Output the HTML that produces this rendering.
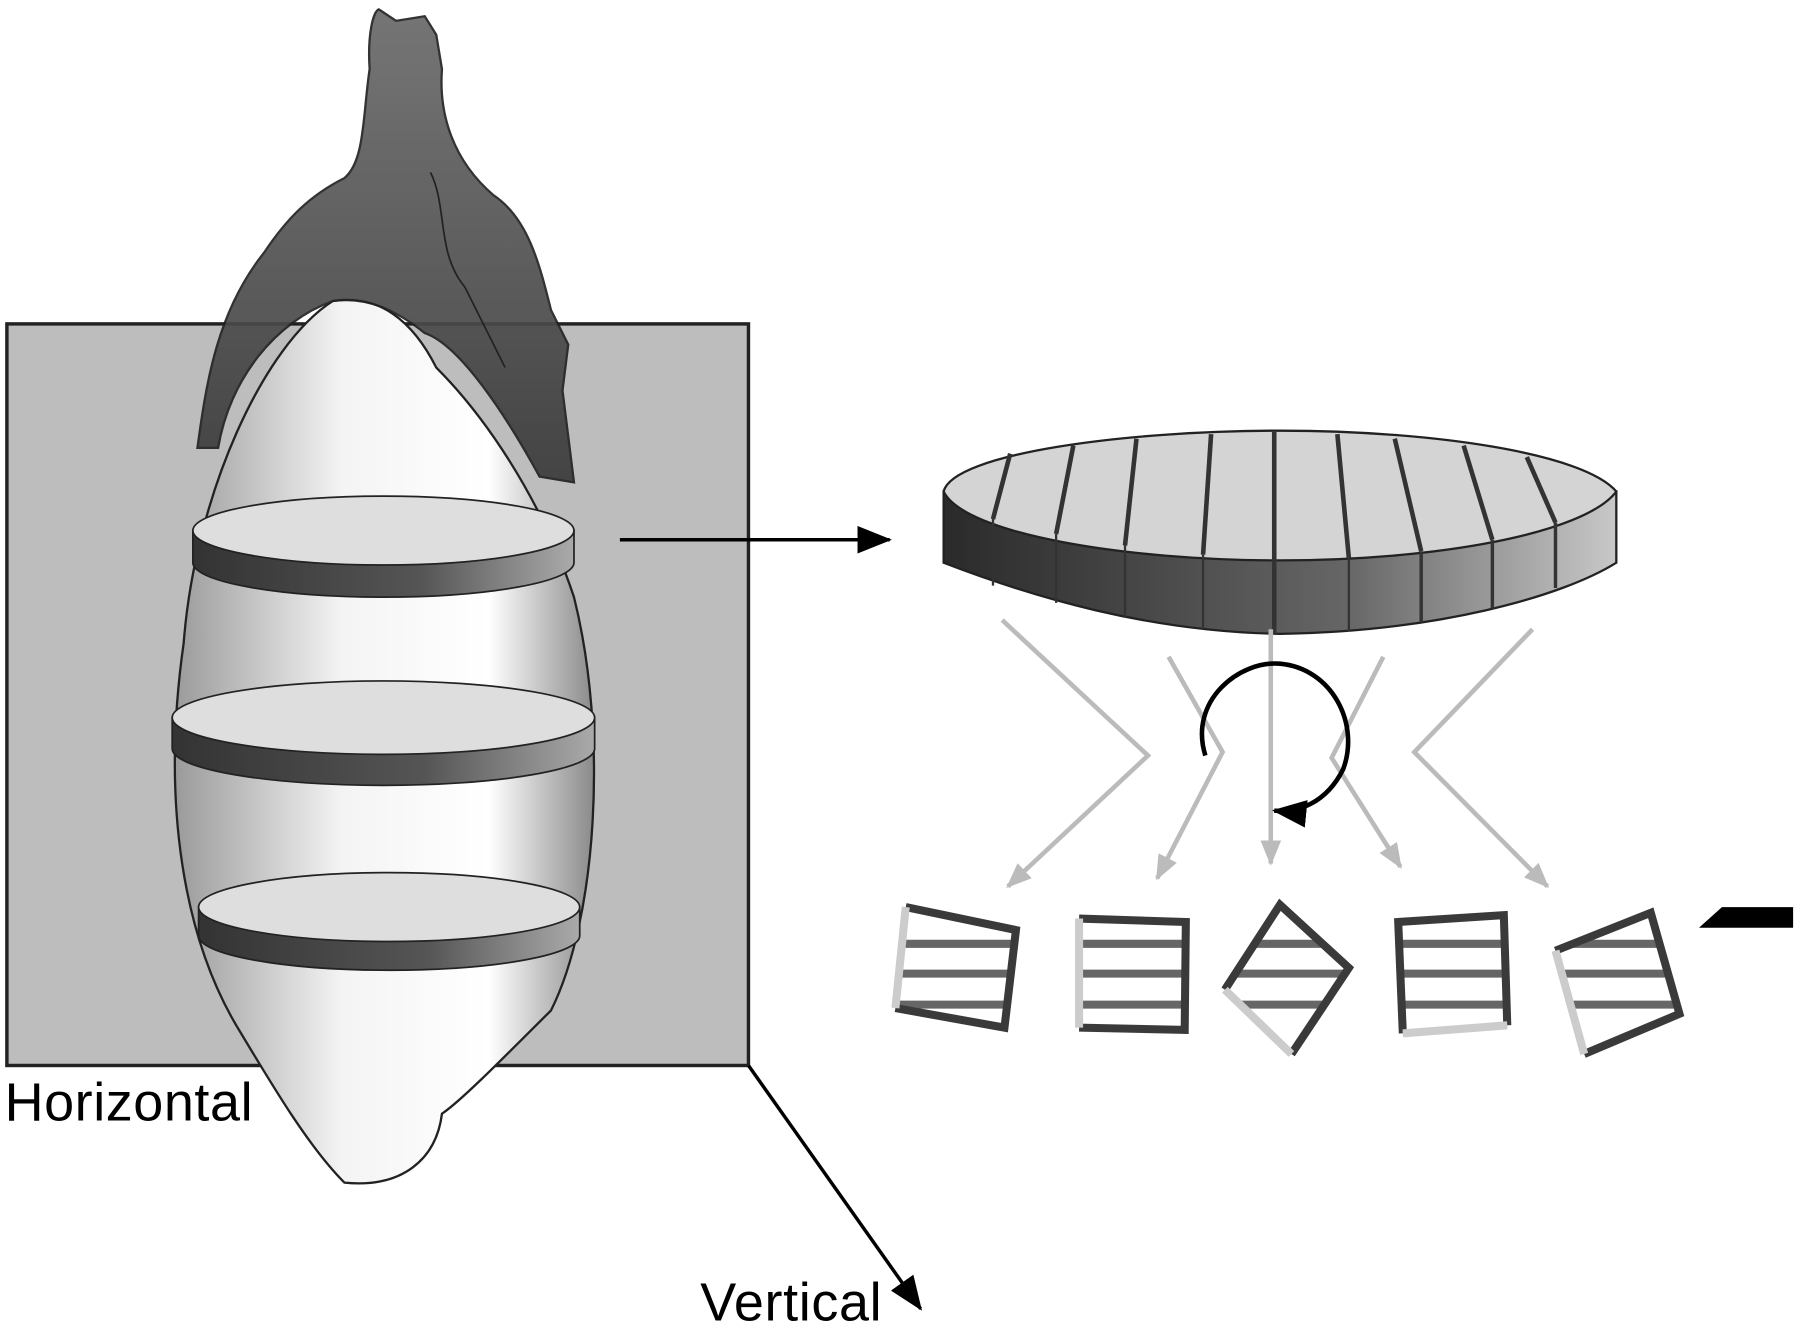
<!DOCTYPE html>
<html><head><style>html,body{margin:0;padding:0;background:#fff}svg{display:block}</style></head>
<body>
<svg width="1800" height="1332" viewBox="0 0 1568 1160" xmlns="http://www.w3.org/2000/svg">
<defs>
<linearGradient id="dark" x1="0" y1="0" x2="0" y2="1"><stop offset="0" stop-color="#6a6a6a"/><stop offset="1" stop-color="#3a3a3a"/></linearGradient>
<linearGradient id="body" x1="0" y1="0" x2="1" y2="0"><stop offset="0" stop-color="#9a9a9a"/><stop offset="0.4" stop-color="#f4f4f4"/><stop offset="0.75" stop-color="#ffffff"/><stop offset="1" stop-color="#8a8a8a"/></linearGradient>
<linearGradient id="band" x1="0" y1="0" x2="1" y2="0"><stop offset="0" stop-color="#333"/><stop offset="0.6" stop-color="#555"/><stop offset="1" stop-color="#aaa"/></linearGradient>
<linearGradient id="rim" x1="0" y1="0" x2="1" y2="0"><stop offset="0" stop-color="#2a2a2a"/><stop offset="0.6" stop-color="#666"/><stop offset="1" stop-color="#c8c8c8"/></linearGradient>
<marker id="ahg" markerWidth="22" markerHeight="22" refX="20" refY="11" orient="auto" markerUnits="userSpaceOnUse"><path d="M0,2 L22,11 L0,20 z" fill="#bbb"/></marker>
<marker id="ahb" markerWidth="30" markerHeight="24" refX="28" refY="12" orient="auto" markerUnits="userSpaceOnUse"><path d="M0,0 L30,12 L0,24 z" fill="#000"/></marker>
</defs>
<rect x="6" y="282" width="646" height="646" fill="#bdbdbd" stroke="#222" stroke-width="3"/>
<path d="M290,262 C330,255 360,280 380,320 C420,360 470,430 500,520 C530,640 520,800 480,880 C430,930 400,960 385,970 C380,1010 350,1035 300,1030 C270,1000 240,950 210,900 C160,820 140,700 160,560 C170,430 230,300 290,262 Z" fill="url(#body)" stroke="#222" stroke-width="2"/>
<path d="M172,390 C180,330 190,270 230,220 C250,190 270,170 300,155 C318,140 316,100 322,60 C320,30 325,10 330,8 L345,18 L370,14 L380,30 L385,60 C382,100 395,140 430,170 C460,190 470,230 480,270 L495,300 L490,340 L500,420 L470,415 C440,360 400,300 370,290 C345,270 320,258 290,262 C240,280 200,330 190,390 Z" fill="url(#dark)" stroke="#222" stroke-width="2" opacity="0.92"/>
<path d="M375,150 C390,180 380,220 405,250 C420,280 430,300 440,320" stroke="#222" fill="none" stroke-width="1.5"/>
<path d="M168,462 L168,490 A166,30 0 0 0 500,490 L500,462 Z" fill="url(#band)" stroke="#222" stroke-width="1.5"/>
<ellipse cx="334" cy="462" rx="166" ry="30" fill="#dedede" stroke="#222" stroke-width="1.5"/>
<path d="M150,625 L150,652 A184,32 0 0 0 518,652 L518,625 Z" fill="url(#band)" stroke="#222" stroke-width="1.5"/>
<ellipse cx="334" cy="625" rx="184" ry="32" fill="#dedede" stroke="#222" stroke-width="1.5"/>
<path d="M173,790 L173,815 A166,30 0 0 0 505,815 L505,790 Z" fill="url(#band)" stroke="#222" stroke-width="1.5"/>
<ellipse cx="339" cy="790" rx="166" ry="30" fill="#dedede" stroke="#222" stroke-width="1.5"/>
<line x1="540" y1="470" x2="775" y2="470" stroke="#000" stroke-width="3" marker-end="url(#ahb)"/>
<path d="M822,428 L822,490 C900,520 1000,550 1115,552 C1250,550 1360,520 1408,490 L1408,428 Z" fill="url(#rim)" stroke="#222" stroke-width="2"/>
<path d="M822,428 C830,395 980,375 1115,375 C1250,375 1380,395 1408,428 C1380,465 1250,488 1115,488 C980,488 840,465 822,428 Z" fill="#d4d4d4" stroke="#222" stroke-width="2"/>
<g stroke="#333" stroke-width="4">
<line x1="880" y1="395" x2="865" y2="452"/><line x1="935" y1="388" x2="920" y2="465"/><line x1="990" y1="382" x2="980" y2="475"/><line x1="1055" y1="378" x2="1048" y2="483"/><line x1="1110" y1="376" x2="1110" y2="488"/><line x1="1165" y1="378" x2="1175" y2="486"/><line x1="1215" y1="382" x2="1238" y2="480"/><line x1="1275" y1="388" x2="1300" y2="470"/><line x1="1330" y1="398" x2="1355" y2="455"/>
<line x1="865" y1="452" x2="865" y2="510" stroke-width="2"/><line x1="920" y1="465" x2="920" y2="525" stroke-width="2"/><line x1="980" y1="475" x2="980" y2="538" stroke-width="2"/><line x1="1048" y1="483" x2="1048" y2="548" stroke-width="2"/><line x1="1110" y1="488" x2="1110" y2="552"/><line x1="1175" y1="486" x2="1175" y2="550" stroke-width="2"/><line x1="1238" y1="480" x2="1238" y2="542" stroke-width="3"/><line x1="1300" y1="470" x2="1300" y2="530" stroke-width="3"/><line x1="1355" y1="455" x2="1355" y2="512" stroke-width="3"/>
</g>
<g stroke="#bbb" stroke-width="4" fill="none">
<polyline points="873,540 1000,658 878,772" marker-end="url(#ahg)"/>
<polyline points="1018,572 1065,655 1008,765" marker-end="url(#ahg)"/>
<line x1="1107" y1="548" x2="1107" y2="752" marker-end="url(#ahg)"/>
<polyline points="1205,572 1160,660 1220,755" marker-end="url(#ahg)"/>
<polyline points="1335,548 1232,655 1348,772" marker-end="url(#ahg)"/>
</g>
<path d="M1050,658 C1035,610 1080,575 1115,578 C1160,582 1185,630 1170,670 C1155,700 1130,708 1110,706" stroke="#000" stroke-width="4" fill="none" marker-end="url(#ahb)"/>
<g stroke-width="7" fill="none" stroke-linejoin="miter">
<g><clipPath id="c1"><polygon points="789,790 885,810 875,895 780,878"/></clipPath><g clip-path="url(#c1)" stroke="#666"><line x1="770" y1="822" x2="900" y2="822"/><line x1="770" y1="848" x2="900" y2="848"/><line x1="770" y1="875" x2="900" y2="875"/></g><polyline points="789,790 885,810 875,895 780,878" stroke="#3a3a3a"/><line x1="789" y1="790" x2="780" y2="878" stroke="#ccc"/></g>
<g><clipPath id="c2"><polygon points="940,800 1033,803 1032,897 940,895"/></clipPath><g clip-path="url(#c2)" stroke="#666"><line x1="930" y1="822" x2="1040" y2="822"/><line x1="930" y1="848" x2="1040" y2="848"/><line x1="930" y1="875" x2="1040" y2="875"/></g><polyline points="940,800 1033,803 1032,897 940,895" stroke="#3a3a3a"/><line x1="940" y1="800" x2="940" y2="895" stroke="#ccc"/></g>
<g><clipPath id="c3"><polygon points="1115,788 1175,843 1125,918 1067,862"/></clipPath><g clip-path="url(#c3)" stroke="#666"><line x1="1060" y1="822" x2="1180" y2="822"/><line x1="1060" y1="848" x2="1180" y2="848"/><line x1="1060" y1="875" x2="1180" y2="875"/></g><polyline points="1067,862 1115,788 1175,843 1125,918" stroke="#3a3a3a"/><line x1="1067" y1="862" x2="1125" y2="918" stroke="#ccc"/></g>
<g><clipPath id="c4"><polygon points="1218,803 1310,797 1313,893 1222,900"/></clipPath><g clip-path="url(#c4)" stroke="#666"><line x1="1210" y1="822" x2="1320" y2="822"/><line x1="1210" y1="848" x2="1320" y2="848"/><line x1="1210" y1="875" x2="1320" y2="875"/></g><polyline points="1222,900 1218,803 1310,797 1313,893" stroke="#3a3a3a"/><line x1="1222" y1="900" x2="1313" y2="893" stroke="#ccc"/></g>
<g><clipPath id="c5"><polygon points="1355,828 1438,795 1463,883 1380,918"/></clipPath><g clip-path="url(#c5)" stroke="#666"><line x1="1350" y1="822" x2="1470" y2="822"/><line x1="1350" y1="848" x2="1470" y2="848"/><line x1="1350" y1="875" x2="1470" y2="875"/></g><polyline points="1355,828 1438,795 1463,883 1380,918" stroke="#3a3a3a"/><line x1="1355" y1="828" x2="1380" y2="918" stroke="#ccc"/></g>
</g>
<polygon points="1480,808 1500,790 1562,790 1562,808" fill="#000"/>
<line x1="652" y1="928" x2="802" y2="1140" stroke="#000" stroke-width="3" marker-end="url(#ahb)"/>
<text x="4" y="976" font-family="Liberation Sans, sans-serif" font-size="47" fill="#000" textLength="216">Horizontal</text>
<text x="610" y="1150" font-family="Liberation Sans, sans-serif" font-size="47" fill="#000" textLength="158">Vertical</text>
</svg>
</body></html>
